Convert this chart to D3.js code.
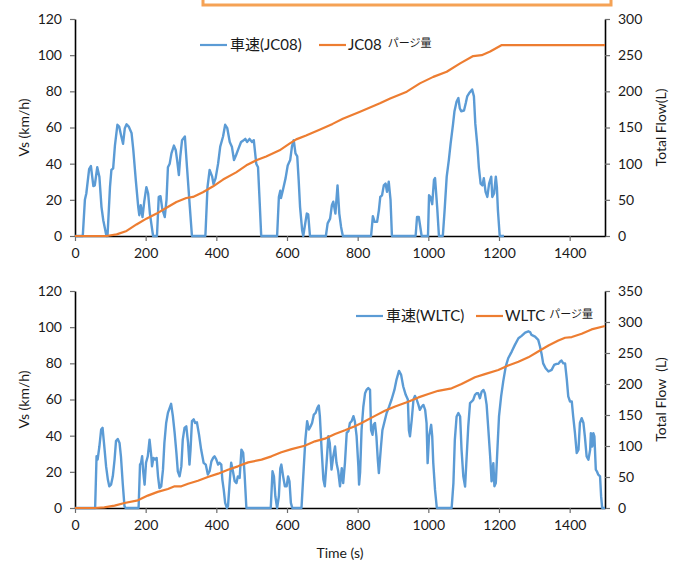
<!DOCTYPE html>
<html><head><meta charset="utf-8">
<script src="https://cdn.jsdelivr.net/npm/d3@7"></script>
<style>
body{margin:0;background:#fff;}
text{font-family:Lato,"Noto Sans","Noto Sans CJK JP",sans-serif;fill:#1a1a1a;}
</style></head>
<body><svg id="c" width="679" height="561"></svg>
<script>
// ---------- data ----------
const jc08SpeedT = [0,22,28,32,40,45,52,56,63,69,75,80,89,92,99,103,108,113,120,125,130,136,141,146,152,160,165,172,179,182,186,191,196,202,207,212,216,221,232,237,242,247,254,259,263,268,273,280,285,289,294,298,303,311,317,325,331,369,375,381,388,392,398,405,411,419,425,431,438,444,450,456,463,470,475,482,487,494,501,506,513,518,522,527,572,577,581,583,588,596,602,609,614,619,624,629,633,637,643,646,650,656,660,665,710,715,722,727,731,737,743,748,753,758,838,843,848,855,860,864,869,874,879,883,888,893,897,964,968,973,978,981,999,1002,1006,1011,1016,1019,1025,1030,1041,1046,1052,1058,1063,1070,1074,1080,1085,1089,1093,1101,1106,1110,1117,1124,1129,1133,1139,1143,1148,1153,1157,1162,1167,1172,1178,1181,1186,1191,1194,1197,1202,1214];
const jc08Speed = [0,0,20,23.5,37,38.7,27.6,28,38,32.8,16,8.7,0,0,27,36.5,37.4,50,61.5,60.5,56,51,59.6,61.8,60.5,57,47.6,31,16,11.5,17,10.5,19,27,23.5,12.4,6.8,0,0,21.6,22,15,10.5,20,38,40,45.7,50,47.6,42,33.7,44,53,55,38,16,0,0,27,36.5,33,28.7,32,40,49.4,55,61.5,59.6,52,49.4,42,44.8,48.5,52,52.6,53.7,52,53.7,52,53,40,38,21.6,0,0,21.6,25,21,25,32,39,42,49.4,53,45.7,44,31,16,3,0,5,12.4,12,0,0,7,9.6,17,19,12.4,28,12.4,5,0,0,11,7.8,7.8,14.2,21.6,22.5,28,29,24.4,30,20,0,0,10.5,10.5,4,0,0,22.5,21.6,17.6,31,32,16,0,0,14,32.8,42,51,62,69,74.4,76.3,70.7,69,69.4,73.5,77.2,79.4,81,77.2,62,49.4,38,29,28,32,24.4,21.6,29,32.8,21.6,23.5,32.8,27,14,0,0];
const jc08FlowT = [0,89,118,146,174,202,231,259,287,315,334,362,391,419,456,485,513,541,579,607,626,654,692,729,758,805,863,892,939,976,1014,1052,1090,1127,1151,1175,1208,1500];
const jc08Flow  = [0,0,2.3,7,16,24,31,39,47,52.5,54,60.4,68.7,78,88,97.7,104.6,110,118.4,127.6,133.6,139,147,155,162,171.4,183.4,190,199.5,211,220,227,238.7,248.8,250,255,264,264];

const wltcSpeedT = [0,57,61,64,69,74,78,83,88,93,97,102,107,112,116,121,126,130,135,140,143,180,184,187,190,193,197,201,206,211,216,218,222,227,231,235,239,244,249,253,258,263,268,272,277,282,287,291,296,301,305,310,315,320,324,327,331,336,340,345,351,357,364,370,376,381,386,391,395,400,405,409,414,417,421,425,430,433,438,442,447,452,457,461,466,471,476,480,485,554,559,563,567,572,577,581,584,589,594,599,603,607,611,615,641,646,652,657,662,667,671,676,681,686,690,693,698,703,707,712,717,721,726,731,736,740,745,750,755,759,764,769,774,778,783,788,792,797,802,804,807,811,816,821,825,830,835,838,842,845,849,853,857,860,866,870,875,882,889,896,904,910,917,923,929,936,942,945,948,953,958,962,967,972,976,981,986,991,995,998,1002,1008,1011,1014,1019,1024,1066,1071,1075,1080,1085,1090,1094,1099,1104,1108,1113,1118,1123,1127,1132,1137,1141,1146,1151,1156,1160,1165,1170,1175,1179,1184,1187,1191,1195,1200,1206,1212,1219,1226,1236,1245,1255,1264,1274,1283,1288,1292,1302,1311,1316,1321,1325,1332,1340,1349,1356,1363,1368,1373,1377,1382,1387,1392,1396,1401,1406,1410,1415,1420,1425,1429,1434,1439,1443,1448,1453,1458,1460,1464,1467,1470,1474,1477,1481,1486,1489,1492,1500];
const wltcSpeed = [0,0,28.6,26.8,34,43.4,44.3,34,23,15.7,12,12.9,17.5,26.8,37,38.2,36,28.6,13.8,1,0,0,24,25,28.6,20.3,12.9,25,28.6,37.8,28.6,23,27.7,26.8,27.7,17.5,11,12,21.2,36,47,52.6,55.4,57.6,50.8,41.5,30.5,20.3,17.5,23,37.8,44.3,45.2,36,24,32.3,48,49,47,47.4,40.6,32.3,25,24,18.5,20.3,25.8,27.7,28.6,26.8,24,25,24,15.7,10,2.8,0,1,14.8,25,20.3,14.8,13.8,17.5,16.6,32.3,30.5,18.5,0,0,20.3,17.5,6.5,0,6.5,22,24,17.5,12,12,17.5,14.8,2.8,0,0,17.5,37.8,48,43.4,45.2,47,51.7,52.6,55.4,56.7,50.8,32.3,15.7,12,25,39.7,36,21.2,28.6,34,25,20.3,12,22,13.8,25,41.5,42.5,47,48,50.8,48,39.7,23,12.9,20,43,56,63.5,65.3,66.3,65.3,43,40.5,46,47,39.6,26.7,19.3,34,43,47,52.5,56,60,65.3,71,75.8,73.6,67.2,62.6,60,43,39.6,48.8,60,62,60,57,54.3,56,57,54.3,47,24.8,39.6,46,39.6,24.8,10,0,0,13.8,37.7,50.6,52.5,50.6,32.2,17.5,11.8,26.7,45,58,58.9,59.8,62.6,63.5,63.5,60.7,64.4,65.3,63.5,57,43,28.5,14.7,24.8,12,13.8,30.4,50.6,61.7,70,78.2,82.8,86.5,90.2,93.9,95.2,97,97.7,97.3,95.7,94.8,93,89.3,84.7,80,77.3,75.5,76.4,79.1,79.7,79.7,81,81.5,80,80,70.9,61.7,58.9,58.9,50.6,41.4,30.4,32.2,47,49.7,47,39.6,28.5,26.7,32.2,41.4,34,41.4,39.6,21.2,20.3,18.4,17.5,6.4,0,0];
const wltcFlowT = [0,55,83,112,140,178,206,234,263,282,301,320,348,376,405,433,461,490,528,556,584,613,650,679,707,736,764,792,811,849,877,906,943,972,1000,1028,1066,1094,1132,1160,1198,1226,1255,1283,1311,1340,1368,1387,1406,1434,1462,1500];
const wltcFlow  = [0,0,1,3.8,8,12.4,20,26,30.6,35,35,39.2,44,50,55.4,61.8,67.2,73.6,78,83.3,89.8,95,100.5,107.5,111.8,119.4,125.3,132,137,148.6,156.8,163.8,171.4,178.4,183.8,189,193,200,210.8,216,222.7,229.7,236,243,252.4,262,270,274.6,275.7,281,288,293.5];

const xTicks = [0,200,400,600,800,1000,1200,1400];
const speedTicks = [0,20,40,60,80,100,120];
const flowTicksTop = [0,50,100,150,200,250,300];
const flowTicksBottom = [0,50,100,150,200,250,300,350];

// ---------- drawing ----------
const svg = d3.select("#c");
const BLUE = "#5b9bd5", ORANGE = "#ed7d31";
const fmt = d3.format("d");

// decorative clipped frame at top
svg.append("rect").attr("x",203).attr("y",-20).attr("width",408).attr("height",25)
  .attr("fill","none").attr("stroke","#f5a255").attr("stroke-width",3);

function panel(cfg){
  const x = d3.scaleLinear().domain([0,1500]).range([75,605]);
  const yL = d3.scaleLinear().domain([0,120]).range([cfg.bottom,cfg.top]);
  const yR = d3.scaleLinear().domain([0,cfg.flowMax]).range([cfg.bottom,cfg.top]);
  const g = svg.append("g");

  const ax = (sel)=>{
    sel.selectAll("text").attr("font-size",14).style("font-family","Lato,sans-serif").attr("fill","#1a1a1a");
    sel.selectAll(".tick line").attr("stroke","#6b6b6b").attr("stroke-width",1.2);
    sel.select(".domain").attr("stroke","#000").attr("stroke-width",1.6);
  };
  g.append("g").attr("transform",`translate(75,0)`)
    .call(d3.axisLeft(yL).tickValues(speedTicks).tickFormat(fmt).tickSize(5).tickSizeOuter(0).tickPadding(8)).call(ax);
  g.append("g").attr("transform",`translate(605,0)`)
    .call(d3.axisRight(yR).tickValues(cfg.flowTicks).tickFormat(fmt).tickSize(5).tickSizeOuter(0).tickPadding(8)).call(ax);
  g.append("g").attr("transform",`translate(0,${cfg.bottom})`)
    .call(d3.axisBottom(x).tickValues(xTicks).tickFormat(fmt).tickSize(5).tickSizeOuter(0).tickPadding(7)).call(ax);

  const sp = cfg.speedT.map((t,i)=>[t,cfg.speed[i]]);
  const fl = cfg.flowT.map((t,i)=>[t,cfg.flow[i]]);
  g.append("path").datum(sp).attr("fill","none").attr("stroke",BLUE).attr("stroke-width",2.4)
    .attr("stroke-linejoin","round")
    .attr("d",d3.line().x(d=>x(d[0])).y(d=>yL(d[1])));
  g.append("path").datum(fl).attr("fill","none").attr("stroke",ORANGE).attr("stroke-width",2.2)
    .attr("stroke-linejoin","round")
    .attr("d",d3.line().x(d=>x(d[0])).y(d=>yR(d[1])));

  const cy = (cfg.top+cfg.bottom)/2;
  g.append("text").attr("transform",`translate(23,${cy}) rotate(-90)`).attr("text-anchor","middle")
    .attr("dominant-baseline","central").attr("font-size",14).text("Vs (km/h)");
  g.append("text").attr("transform",`translate(660,${cy}) rotate(-90)`).attr("text-anchor","middle")
    .attr("dominant-baseline","central").attr("font-size",14).attr("xml:space","preserve").style("white-space","pre").text(cfg.flowLabel);

  // legend
  const L = cfg.legend;
  g.append("line").attr("x1",L.x1).attr("x2",L.x1+27).attr("y1",L.y).attr("y2",L.y).attr("stroke",BLUE).attr("stroke-width",2.2);
  g.append("text").attr("x",L.x1+30).attr("y",L.y+5).attr("font-size",15).text(cfg.speedName);
  g.append("line").attr("x1",L.x2).attr("x2",L.x2+27).attr("y1",L.y).attr("y2",L.y).attr("stroke",ORANGE).attr("stroke-width",2.2);
  const t2 = g.append("text").attr("x",L.x2+29).attr("y",L.y+5).attr("font-size",15);
  t2.append("tspan").text(cfg.flowName);
  t2.append("tspan").attr("dx",L.gap).attr("dy",-3).attr("font-size",11).text("パージ量");
}

panel({top:19,bottom:236,flowMax:300,flowTicks:flowTicksTop,
  speedT:jc08SpeedT,speed:jc08Speed,flowT:jc08FlowT,flow:jc08Flow,
  flowLabel:"Total Flow(L)",speedName:"車速(JC08)",flowName:"JC08",
  legend:{x1:200,x2:319,y:45,gap:6}});
panel({top:291,bottom:508,flowMax:350,flowTicks:flowTicksBottom,
  speedT:wltcSpeedT,speed:wltcSpeed,flowT:wltcFlowT,flow:wltcFlow,
  flowLabel:"Total Flow  (L)",speedName:"車速(WLTC)",flowName:"WLTC",
  legend:{x1:356,x2:476,y:316,gap:4}});

svg.append("text").attr("x",340).attr("y",558).attr("text-anchor","middle").attr("font-size",14).text("Time (s)");
</script></body></html>
